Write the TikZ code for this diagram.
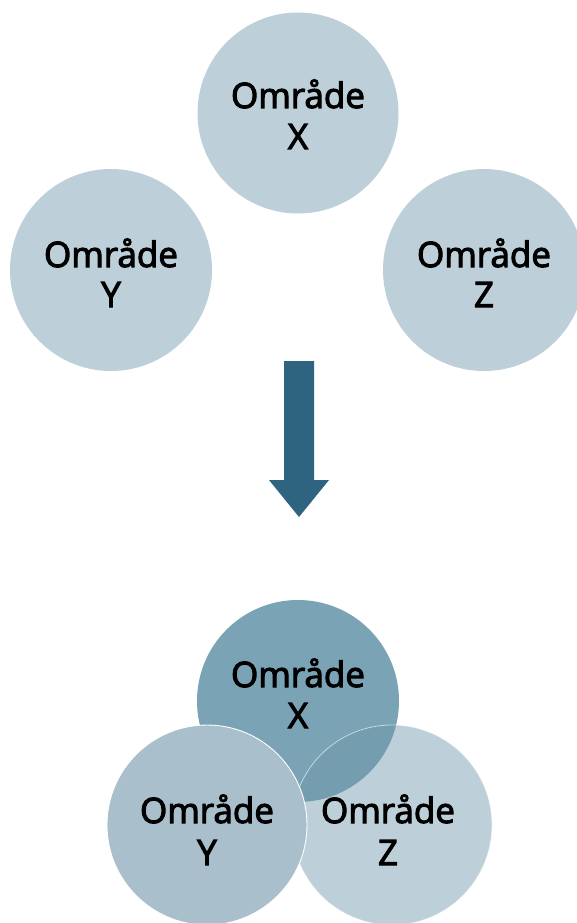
\documentclass[tikz,border=0pt]{standalone}
\usepackage{fontspec}
\setmainfont{Open Sans}[FakeBold=3]
\definecolor{lightc}{HTML}{BDD0D9}
\definecolor{xdark}{HTML}{7AA3B5}
\definecolor{xzc}{HTML}{749EB0}
\definecolor{ymid}{HTML}{A9BFCC}
\definecolor{arrowc}{HTML}{2E6480}
\begin{document}
\begin{tikzpicture}[x=1pt,y=-1pt,
  lbl/.style={font=\fontsize{35}{42}\selectfont, text=black, inner sep=0pt, anchor=base},
  disc/.style={circle, inner sep=0pt, minimum size=#1}]
\useasboundingbox[fill=white] (0,0) rectangle (577,923);
% top circles
\node[disc=201pt, fill=lightc] (tx) at (298,113) {};
\node[disc=202pt, fill=lightc] (ty) at (111,270) {};
\node[disc=202pt, fill=lightc] (tz) at (484,270) {};
\node[lbl] (tx1) at (298,108) {Område};
\node[lbl] (tx2) at (298,149) {X};
\node[lbl] (ty1) at (111,267) {Område};
\node[lbl] (ty2) at (111,307) {Y};
\node[lbl] (tz1) at (484,267) {Område};
\node[lbl] (tz2) at (484,307) {Z};
% arrow
\fill[arrowc] (284,361) -- (314,361) -- (314,480) -- (329,480) -- (299,517) -- (269,480) -- (284,480) -- cycle;
% bottom venn
\node[disc=202pt, fill=xdark] (bx) at (298,701) {};
\node[disc=200pt, fill=lightc] (bz) at (392,825) {};
\begin{scope}
  \clip (298,701) circle (101);
  \fill[xzc] (392,825) circle (100);
\end{scope}
\draw[white, opacity=0.55, line width=0.8pt] (392,825) circle (100);
\node[disc=200pt, fill=ymid, draw=white, line width=0.9pt] (by) at (207,825) {};
\node[lbl] (bx1) at (298,687) {Område};
\node[lbl] (bx2) at (298,728) {X};
\node[lbl] (by1) at (207,823) {Område};
\node[lbl] (by2) at (207,865) {Y};
\node[lbl] (bz1) at (388,823) {Område};
\node[lbl] (bz2) at (388,865) {Z};
\end{tikzpicture}
\end{document}
